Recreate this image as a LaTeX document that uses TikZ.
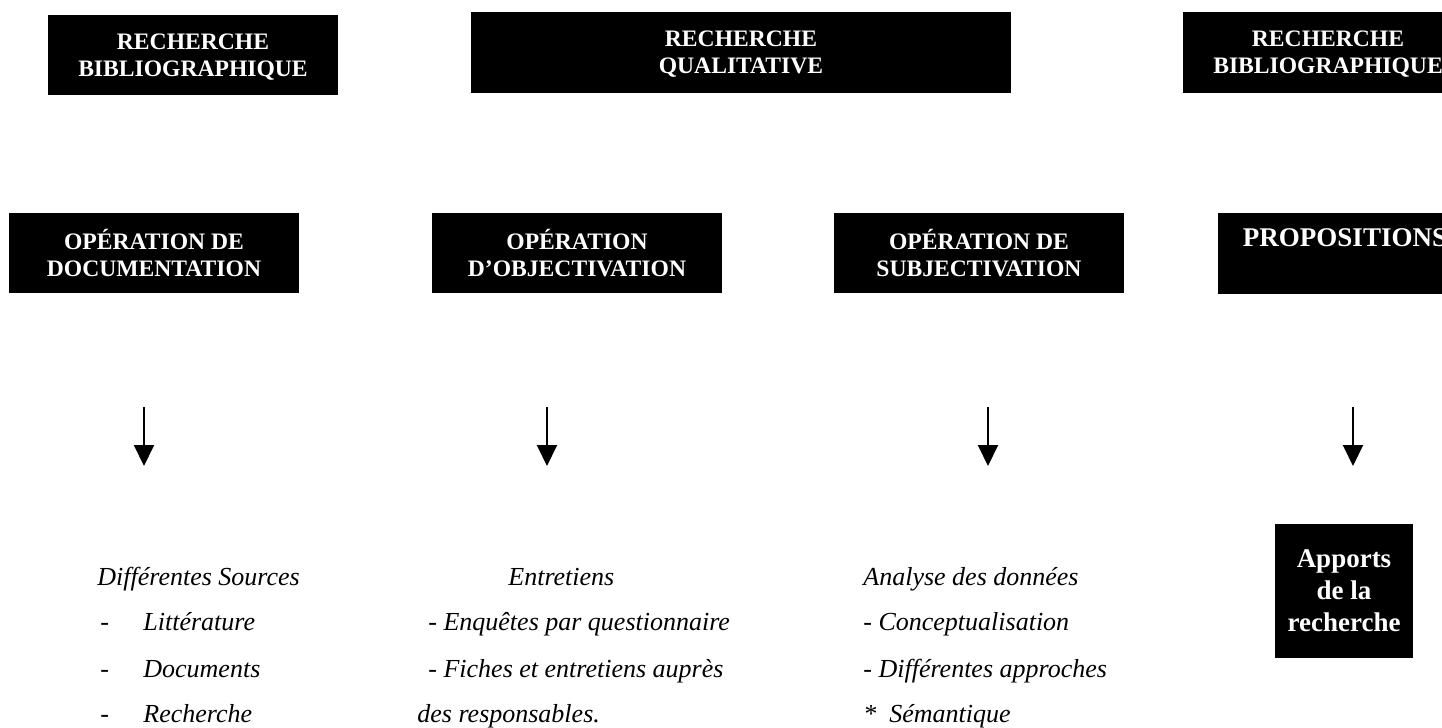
\documentclass[tikz,border=0pt]{standalone}
\usepackage{fontspec}
\setmainfont{Liberation Serif}
\usetikzlibrary{arrows.meta}
\begin{document}
\begin{tikzpicture}[x=0.5pt,y=-0.5pt,
  blackbox/.style={fill=black, text=white, font=\bfseries\fontsize{11.8}{13.5}\selectfont, align=center, inner sep=0pt, text depth=0pt},
  bigbox/.style={blackbox, font=\bfseries\fontsize{13.5}{16}\selectfont},
  body/.style={anchor=base west, inner sep=0pt, font=\itshape\fontsize{13}{15}\selectfont},
  downarrow/.style={line width=1pt, -{Triangle[width=10pt,length=10.5pt]}}]
\useasboundingbox (0,0) rectangle (1442,728);
\clip (0,0) rectangle (1442,728);
% row 1
\node[blackbox, minimum width=145pt, minimum height=40pt] (rb1) at (193,55) {RECHERCHE\\BIBLIOGRAPHIQUE};
\node[blackbox, minimum width=270pt, minimum height=40.5pt] (rq) at (741,52.5) {RECHERCHE\\QUALITATIVE};
\node[blackbox, minimum width=145pt, minimum height=40.5pt] (rb2) at (1328,52.5) {RECHERCHE\\BIBLIOGRAPHIQUE};
% row 2
\node[blackbox, minimum width=145pt, minimum height=40pt] (od) at (154,253) {OPÉRATION DE\\DOCUMENTATION};
\node[blackbox, minimum width=145pt, minimum height=40pt] (oo) at (577,253) {OPÉRATION\\D’OBJECTIVATION};
\node[blackbox, minimum width=145pt, minimum height=40pt] (os) at (979,253) {OPÉRATION DE\\SUBJECTIVATION};
\node[bigbox, minimum width=127pt, minimum height=40.5pt] (pr) at (1345,253.5) {PROPOSITIONS\\\phantom{P}};
% arrows
\coordinate (a1s) at (144,407); \coordinate (a1e) at (144,466);
\coordinate (a2s) at (547,407); \coordinate (a2e) at (547,466);
\coordinate (a3s) at (988,407); \coordinate (a3e) at (988,466);
\coordinate (a4s) at (1353,407); \coordinate (a4e) at (1353,466);
\draw[downarrow] (a1s) -- (a1e);
\draw[downarrow] (a2s) -- (a2e);
\draw[downarrow] (a3s) -- (a3e);
\draw[downarrow] (a4s) -- (a4e);
% result box
\node[bigbox, minimum width=69pt, minimum height=67pt] (ap) at (1344,591) {Apports\\de la\\recherche};
% column 1
\node[body] (c1a) at (97,585) {Différentes Sources};
\node[body] (c1b) at (100,630) {-};
\node[body] (c1c) at (143,630) {Littérature};
\node[body] (c1d) at (100,677) {-};
\node[body] (c1e) at (143,677) {Documents};
\node[body] (c1f) at (100,722) {-};
\node[body] (c1g) at (143,722) {Recherche};
% column 2
\node[body] (c2a) at (508,585) {Entretiens};
\node[body] (c2b) at (428,630) {- Enquêtes par questionnaire};
\node[body] (c2c) at (428,677) {- Fiches et entretiens auprès};
\node[body] (c2d) at (417,722) {des responsables.};
% column 3
\node[body] (c3a) at (863,585) {Analyse des données};
\node[body] (c3b) at (863,630) {- Conceptualisation};
\node[body] (c3c) at (863,677) {- Différentes approches};
\node[body] (c3d) at (863,722) {*\enspace Sémantique};
\end{tikzpicture}
\end{document}
